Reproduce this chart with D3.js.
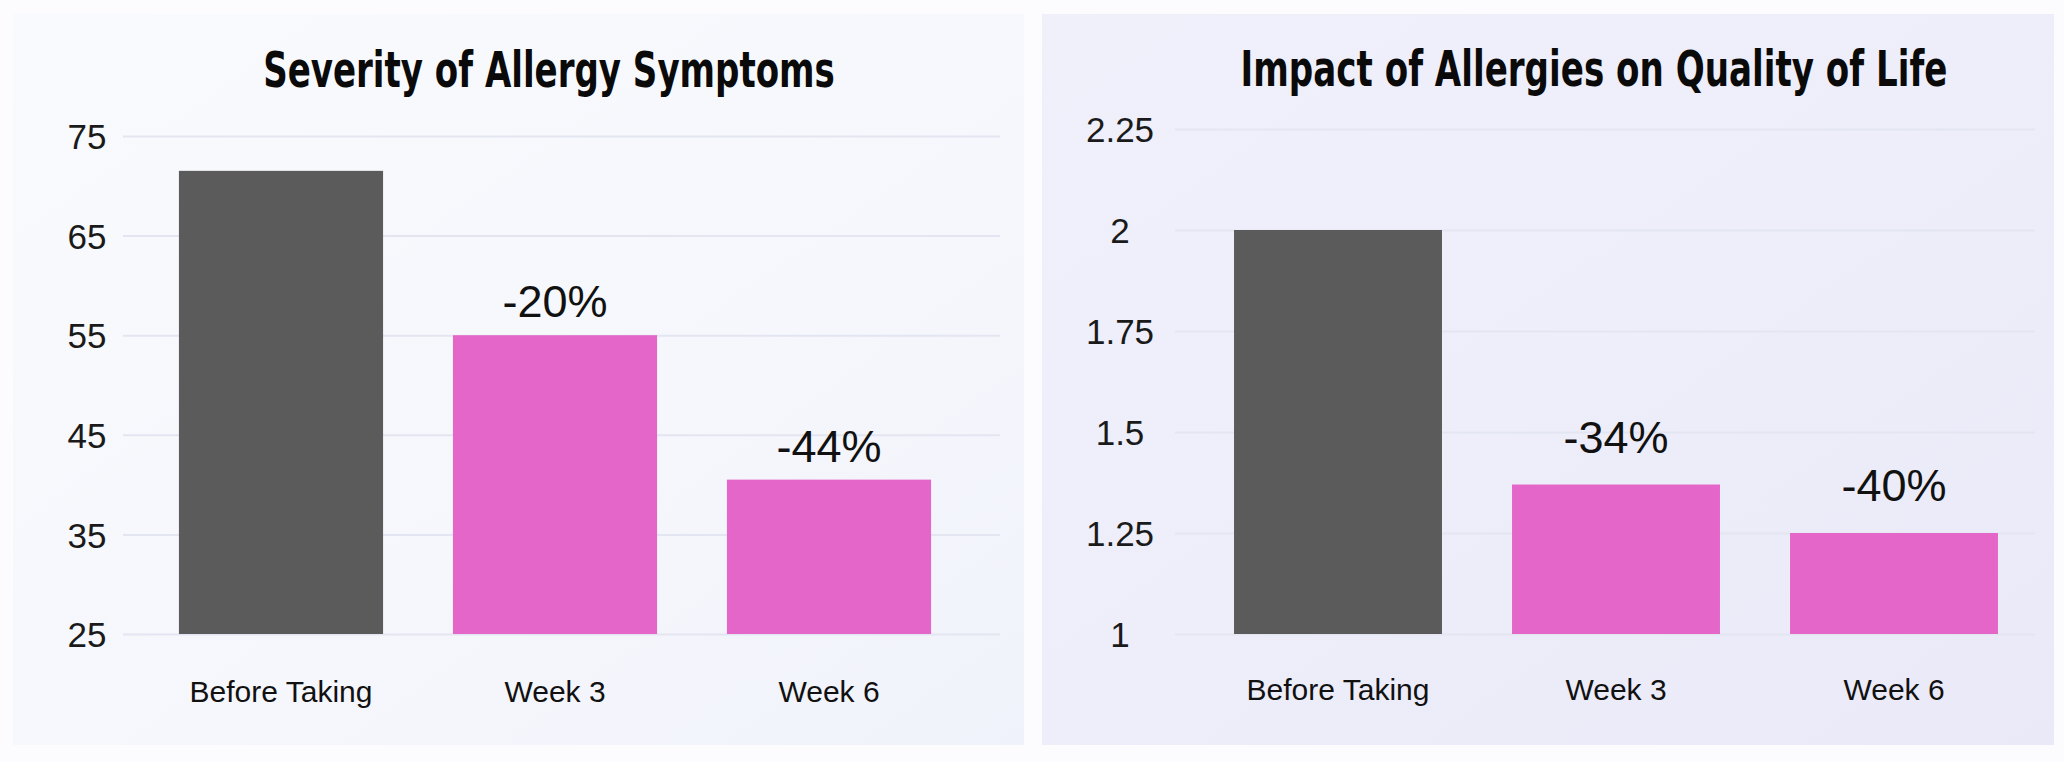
<!DOCTYPE html>
<html>
<head>
<meta charset="utf-8">
<script src="https://cdn.jsdelivr.net/npm/d3@7/dist/d3.min.js"></script>
<style>
  html, body { margin: 0; padding: 0; background: #fcfcfe; }
  svg { display: block; }
</style>
</head>
<body>
<svg id="chart" width="2064" height="762"></svg>
<script>
// ---------- DATA ----------
const categories = ["Before Taking", "Week 3", "Week 6"];

const severityTitle = "Severity of Allergy Symptoms";
const severityValues = [71.5, 55, 40.5];
const severityLabels = ["", "-20%", "-44%"];
const severityTicks = [25, 35, 45, 55, 65, 75];

const qualityTitle = "Impact of Allergies on Quality of Life";
const qualityValues = [2.0, 1.37, 1.25];
const qualityLabels = ["", "-34%", "-40%"];
const qualityTicks = [1, 1.25, 1.5, 1.75, 2, 2.25];
const qualityTickText = ["1", "1.25", "1.5", "1.75", "2", "2.25"];

const barColors = ["#5b5b5b", "#e466c8", "#e466c8"];

// ---------- DRAW ----------
const svg = d3.select("#chart");
const defs = svg.append("defs");

const g1 = defs.append("linearGradient").attr("id", "bgL")
  .attr("x1", "0").attr("y1", "0").attr("x2", "1").attr("y2", "1");
g1.append("stop").attr("offset", "0").attr("stop-color", "#f9fafd");
g1.append("stop").attr("offset", "0.6").attr("stop-color", "#f6f7fc");
g1.append("stop").attr("offset", "1").attr("stop-color", "#f0f2fb");

const g2 = defs.append("linearGradient").attr("id", "bgR")
  .attr("x1", "0").attr("y1", "0").attr("x2", "1").attr("y2", "1");
g2.append("stop").attr("offset", "0").attr("stop-color", "#f0f0fb");
g2.append("stop").attr("offset", "0.5").attr("stop-color", "#edeefa");
g2.append("stop").attr("offset", "1").attr("stop-color", "#eae9f8");

svg.append("rect").attr("x", 0).attr("y", 0).attr("width", 2064).attr("height", 762)
  .attr("fill", "#fcfcfe");

function drawChart(cfg) {
  const g = svg.append("g");
  g.append("rect")
    .attr("x", cfg.panel[0]).attr("y", cfg.panel[1])
    .attr("width", cfg.panel[2]).attr("height", cfg.panel[3])
    .attr("fill", cfg.bg);

  const x = d3.scaleBand()
    .domain(categories)
    .range(cfg.xRange)
    .paddingInner(cfg.padInner)
    .paddingOuter(cfg.padInner / 2);

  const y = d3.scaleLinear()
    .domain([cfg.ticks[0], cfg.ticks[cfg.ticks.length - 1]])
    .range(cfg.yRange);

  // y axis with gridlines
  const axis = d3.axisLeft(y)
    .tickValues(cfg.ticks)
    .tickFormat((d, i) => cfg.tickText[i])
    .tickSizeInner(-(cfg.gridX[1] - cfg.gridX[0]))
    .tickSizeOuter(0);

  const ax = g.append("g")
    .attr("transform", `translate(${cfg.gridX[0]},0)`)
    .call(axis);
  ax.select(".domain").remove();
  ax.selectAll(".tick line")
    .attr("stroke", "#e3e5f1")
    .attr("stroke-width", 2);
  ax.selectAll(".tick text")
    .attr("x", cfg.tickCenter - cfg.gridX[0])
    .attr("dy", "0.36em")
    .attr("text-anchor", "middle")
    .attr("fill", "#1a1a1a")
    .style("font-family", "'Liberation Sans', Arial, sans-serif")
    .style("font-size", "35px");

  // bars
  const data = categories.map((c, i) => ({ c, v: cfg.values[i], label: cfg.labels[i], color: barColors[i] }));
  g.selectAll("rect.bar").data(data).enter().append("rect")
    .attr("class", "bar")
    .attr("x", d => x(d.c))
    .attr("width", x.bandwidth())
    .attr("y", d => y(d.v))
    .attr("height", d => y(cfg.ticks[0]) - y(d.v))
    .attr("fill", d => d.color);

  // value labels
  g.selectAll("text.vlab").data(data.filter(d => d.label)).enter().append("text")
    .attr("class", "vlab")
    .attr("x", d => x(d.c) + x.bandwidth() / 2)
    .attr("y", d => y(d.v) - cfg.labelGap)
    .attr("text-anchor", "middle")
    .attr("fill", "#111")
    .style("font-family", "'Liberation Sans', Arial, sans-serif")
    .style("font-size", "45px")
    .text(d => d.label);

  // x axis labels
  const xa = d3.axisBottom(x).tickSize(0).tickPadding(0);
  const xg = g.append("g").attr("transform", `translate(0,${cfg.catY})`).call(xa);
  xg.select(".domain").remove();
  xg.selectAll(".tick text")
    .attr("dy", 0)
    .attr("y", 0)
    .attr("fill", "#111")
    .style("font-family", "'Liberation Sans', Arial, sans-serif")
    .style("font-size", "30px");

  // title: condensed bold, squeezed horizontally to the reference width
  const tg = g.append("g").attr("transform", `translate(${cfg.titleX},${cfg.titleY})`);
  const t = tg.append("text")
    .attr("x", 0)
    .attr("y", 0)
    .attr("text-anchor", "middle")
    .attr("fill", "#0a0a0a")
    .style("font-family", "'DejaVu Sans Condensed', 'Liberation Sans', sans-serif")
    .style("font-weight", "bold")
    .style("font-size", "50px")
    .text(cfg.title);
  const w = t.node().getComputedTextLength();
  if (w > 0) {
    const sx = Math.min(1, cfg.titleW / w);
    tg.attr("transform", `translate(${cfg.titleX},${cfg.titleY}) scale(${sx.toFixed(4)},1)`);
  }
}

drawChart({
  title: severityTitle,
  values: severityValues,
  labels: severityLabels,
  ticks: severityTicks,
  tickText: severityTicks.map(String),
  panel: [13, 14, 1011, 731],
  bg: "url(#bgL)",
  xRange: [144, 966],
  padInner: 0.255,
  yRange: [634, 136],
  gridX: [123, 1000],
  tickCenter: 87,
  labelGap: 18,
  catY: 702,
  titleX: 549,
  titleY: 87,
  titleW: 572
});

drawChart({
  title: qualityTitle,
  values: qualityValues,
  labels: qualityLabels,
  ticks: qualityTicks,
  tickText: qualityTickText,
  panel: [1042, 14, 1012, 731],
  bg: "url(#bgR)",
  xRange: [1199, 2033],
  padInner: 0.252,
  yRange: [634, 129],
  gridX: [1175, 2035],
  tickCenter: 1120,
  labelGap: 32,
  catY: 700,
  titleX: 1594,
  titleY: 86,
  titleW: 707
});
</script>
</body>
</html>
